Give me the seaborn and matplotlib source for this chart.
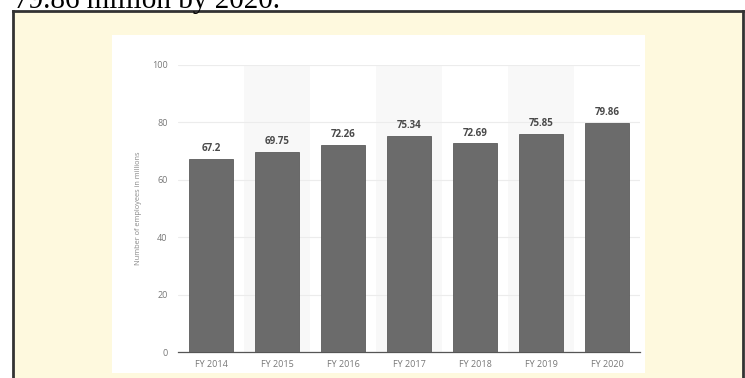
import matplotlib.pyplot as plt
import matplotlib.patches as mpatches
from matplotlib.lines import Line2D
import seaborn as sns
import pandas as pd

sns.set_style("white")
plt.rcParams['font.family'] = ['Open Sans', 'DejaVu Sans']

years = ['FY 2014', 'FY 2015', 'FY 2016', 'FY 2017', 'FY 2018', 'FY 2019', 'FY 2020']
employees = [67.2, 69.75, 72.26, 75.34, 72.69, 75.85, 79.86]
value_labels = ['67.2', '69.75', '72.26', '75.34', '72.69', '75.85', '79.86']
yticks = [0, 20, 40, 60, 80, 100]

df = pd.DataFrame({'year': years, 'employees': employees})

W, H = 745, 378
fig = plt.figure(figsize=(W / 100, H / 100), dpi=100, facecolor='white')

# cream box, open at the bottom (it runs off the picture)
fig.patches.append(mpatches.Rectangle((13 / W, 0), 730 / W, 1 - 11 / H,
                                      transform=fig.transFigure, facecolor='#fef9de',
                                      edgecolor='none', linewidth=0, zorder=0))
for xs, ys in [([13 / W, 13 / W], [-0.1, 1 - 11 / H]),
               ([13 / W, 743 / W], [1 - 11 / H, 1 - 11 / H]),
               ([743 / W, 743 / W], [1 - 11 / H, -0.1])]:
    fig.lines.append(Line2D(xs, ys, transform=fig.transFigure, color='#333333',
                            linewidth=2, solid_capstyle='projecting', zorder=0.5))
# white chart panel
fig.patches.append(mpatches.Rectangle((112 / W, 5 / H), 533 / W, 338 / H,
                                      transform=fig.transFigure, facecolor='white',
                                      edgecolor='none', linewidth=0, zorder=1))
# cut-off sentence above the box
fig.text(14 / W, 1 - 8 / H, '79.86 million by 2020.', family='Liberation Serif',
         fontsize=21, color='black', va='baseline', ha='left')

ax = fig.add_axes([178 / W, 26 / H, 462 / W, 287 / H])
ax.set_facecolor('none')
ax.set_zorder(2)

for i in range(1, len(years), 2):
    ax.axvspan(i - 0.5, i + 0.5, color='#f8f8f8', zorder=0, lw=0)

sns.barplot(data=df, x='year', y='employees', color='#6b6b6b', saturation=1,
            width=0.68, edgecolor='#5c5c5c', linewidth=0.6, ax=ax, zorder=3)

for i, (v, lab) in enumerate(zip(employees, value_labels)):
    ax.text(i, v + 1.7, lab, ha='center', va='bottom', fontsize=7,
            fontweight='bold', color='#4a4a4a', zorder=4)

ax.set_ylim(0, 100)
ax.set_xlim(-0.5, len(years) - 0.5)
ax.set_yticks(yticks)
ax.yaxis.grid(True, color='#ececec', linewidth=0.8, zorder=1)
ax.set_axisbelow(True)
for s in ['top', 'right', 'left']:
    ax.spines[s].set_visible(False)
ax.spines['bottom'].set_color('#555555')
ax.spines['bottom'].set_linewidth(0.9)
ax.tick_params(axis='both', length=0, labelsize=6.5, labelcolor='#777777')
ax.tick_params(axis='y', pad=7.5)
ax.tick_params(axis='x', pad=6)
ax.set_xlabel('')
ax.set_ylabel('Number of employees in millions', fontsize=5.3, color='#888888', labelpad=7)

fig.savefig('out.png', dpi=100, facecolor=fig.get_facecolor())
